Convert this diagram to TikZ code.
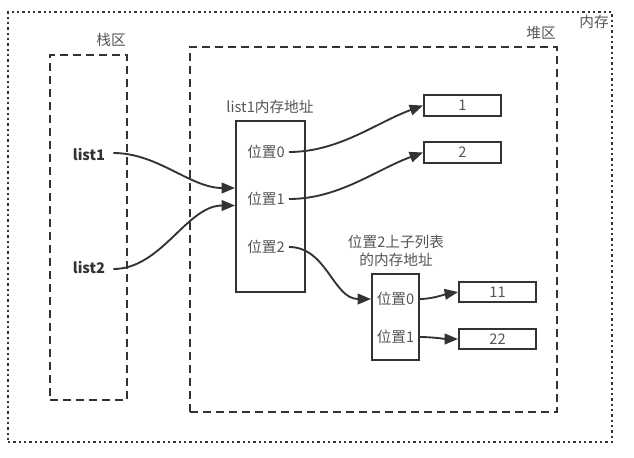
\documentclass[tikz,border=0pt]{standalone}
\usepackage{fontspec}
\setmainfont{Noto Sans CJK SC}
\usetikzlibrary{arrows.meta,calc}
\definecolor{lc}{HTML}{333333}
\definecolor{tc}{HTML}{555555}
\begin{document}
\begin{tikzpicture}[x=0.75pt,y=-0.75pt,
  region/.style={draw=lc,line width=1.6pt,dash pattern=on 6pt off 3.75pt,minimum width=#1},
  outerbox/.style={draw=lc,line width=1.6pt,dash pattern=on 1.8pt off 2.2pt},
  box/.style={draw=lc,line width=1.5pt,inner sep=0pt},
  lbl/.style={text=tc,font=\fontsize{11pt}{13pt}\selectfont,inner sep=0pt},
  var/.style={text=lc,font=\fontsize{11pt}{13pt}\selectfont\bfseries,inner sep=0pt},
  arr/.style={draw=lc,line width=1.4pt,-{Triangle[length=10pt,width=8pt]}},
]
\useasboundingbox (0,0) rectangle (634,457);
% regions
\node[outerbox,minimum width=453pt,minimum height=322.5pt] (mem) at (310,227) {};
\node[lbl,anchor=east] (memlbl) at (609,22) {内存};
\node[region=57.75pt,minimum height=258.75pt] (stack) at (88.5,227.5) {};
\node[lbl] (stacklbl) at (111,40) {栈区};
\node[region=275.25pt,minimum height=273.75pt] (heap) at (373.5,229.5) {};
\node[lbl] (heaplbl) at (541,33) {堆区};
% variables
\node[var] (l1) at (89,155) {list1};
\node[var] (l2) at (89,268) {list2};
% list1 memory box
\node[box,minimum width=51.75pt,minimum height=128.25pt] (mbox) at (270.5,206.5) {};
\node[lbl] (mlbl) at (270,107) {list1内存地址};
\node[lbl] (p0) at (266,152) {位置0};
\node[lbl] (p1) at (266,199) {位置1};
\node[lbl] (p2) at (266,247) {位置2};
% value boxes
\node[box,minimum width=57.75pt,minimum height=15.75pt,lbl] (b1) at (462.5,105.5) {1};
\node[box,minimum width=57.75pt,minimum height=15.75pt,lbl] (b2) at (462.5,152.5) {2};
% sub list
\node[box,minimum width=35.25pt,minimum height=64.5pt] (sbox) at (395.5,317) {};
\node[lbl,align=center] (slbl) at (396,251) {位置2上子列表\\的内存地址};
\node[lbl] (sp0) at (395.5,299) {位置0};
\node[lbl] (sp1) at (395.5,337) {位置1};
\node[box,minimum width=57.75pt,minimum height=15pt,lbl] (b11) at (497.5,292) {11};
\node[box,minimum width=57.75pt,minimum height=15pt,lbl] (b22) at (497.5,339) {22};
% connectors
\draw[arr] ($(l1.east)+(8,-2)$) to[out=0,in=180,looseness=0.9] ($(mbox.west)+(0,-18.5)$);
\draw[arr] ($(l2.east)+(8,1)$) to[out=0,in=180,looseness=0.9] ($(mbox.west)+(0,-1)$);
\draw[arr] ($(p0.east)+(4,0)$) to[out=0,in=200,looseness=0.9] (b1.west);
\draw[arr] ($(p1.east)+(4,0)$) to[out=0,in=200,looseness=0.9] (b2.west);
\draw[arr] ($(p2.east)+(4,0)$) to[out=0,in=180,looseness=1] (sbox.west |- sp0);
\draw[arr] (sbox.east |- sp0) to[out=0,in=190,looseness=0.8] (b11.west);
\draw[arr] (sbox.east |- sp1) to[out=0,in=180,looseness=0.8] (b22.west);
\end{tikzpicture}
\end{document}
